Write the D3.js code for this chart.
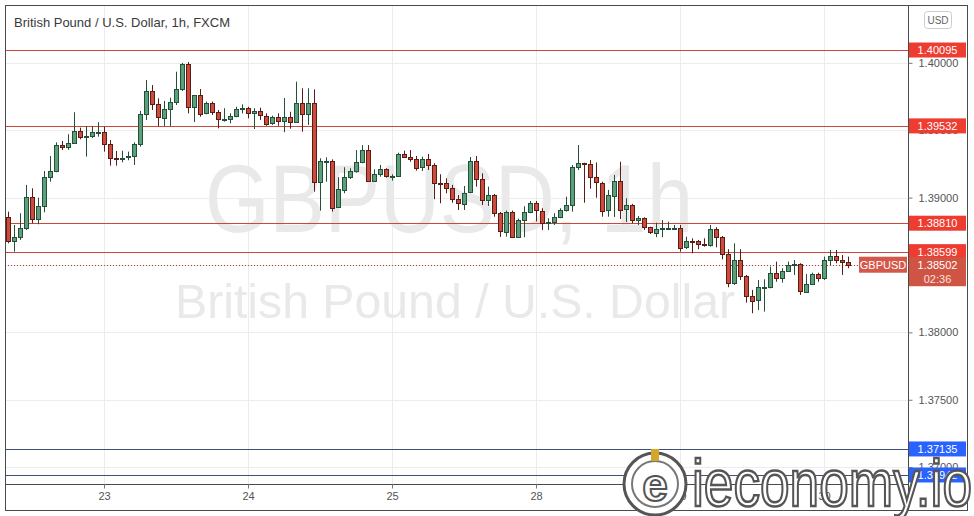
<!DOCTYPE html>
<html><head><meta charset="utf-8">
<script src="https://cdn.jsdelivr.net/npm/d3@7"></script>
<style>body{margin:0;background:#fff;} svg{display:block;}</style>
</head><body>
<svg id="c" width="974" height="516"></svg>
<script>
// ---- data (GBPUSD, 1h) ----
const opens = [1.38854,1.38673,1.38703,1.38772,1.39002,1.38836,1.38936,1.39151,1.39195,1.39388,
1.39370,1.39403,1.39492,1.39447,1.39452,1.39485,1.39485,1.39396,1.39292,1.39289,
1.39296,1.39306,1.39396,1.39618,1.39789,1.39692,1.39593,1.39657,1.39712,1.39806,
1.39991,1.39670,1.39761,1.39623,1.39700,1.39633,1.39581,1.39583,1.39603,1.39657,
1.39663,1.39623,1.39640,1.39608,1.39551,1.39596,1.39566,1.39596,1.39556,1.39700,
1.39618,1.39700,1.39112,1.39269,1.39272,1.38925,1.39062,1.39155,1.39197,1.39262,
1.39353,1.39121,1.39173,1.39210,1.39155,1.39158,1.39324,1.39304,1.39289,1.39225,
1.39284,1.39240,1.39106,1.39106,1.39069,1.38988,1.38958,1.39036,1.39268,1.39136,
1.38977,1.39017,1.38884,1.38747,1.38893,1.38706,1.38832,1.38891,1.38958,1.38903,
1.38817,1.38819,1.38854,1.38908,1.38943,1.39225,1.39255,1.39247,1.39151,1.39112,
1.38903,1.39017,1.39126,1.38913,1.38943,1.38834,1.38847,1.38780,1.38740,1.38767,
1.38775,1.38777,1.38778,1.38631,1.38678,1.38676,1.38654,1.38649,1.38765,1.38706,
1.38582,1.38364,1.38537,1.38419,1.38270,1.38235,1.38335,1.38337,1.38443,1.38409,
1.38459,1.38500,1.38504,1.38302,1.38359,1.38433,1.38402,1.38537,1.38567,1.38537,
1.38522];
const highs = [1.38896,1.38797,1.38884,1.39094,1.39069,1.38999,1.39197,1.39309,1.39410,1.39420,
1.39470,1.39633,1.39519,1.39531,1.39531,1.39559,1.39526,1.39427,1.39346,1.39348,
1.39341,1.39410,1.39643,1.39872,1.39835,1.39737,1.39717,1.39741,1.39934,1.39999,
1.40006,1.39761,1.39806,1.39712,1.39712,1.39650,1.39663,1.39625,1.39674,1.39692,
1.39674,1.39663,1.39667,1.39625,1.39608,1.39625,1.39739,1.39637,1.39860,1.39811,
1.39811,1.39803,1.39292,1.39299,1.39284,1.39151,1.39225,1.39218,1.39353,1.39390,
1.39390,1.39210,1.39242,1.39218,1.39173,1.39333,1.39348,1.39353,1.39309,1.39304,
1.39324,1.39255,1.39173,1.39143,1.39094,1.39019,1.39086,1.39301,1.39309,1.39180,
1.39081,1.39027,1.38893,1.38904,1.38904,1.38844,1.38936,1.38975,1.38975,1.38921,
1.38847,1.38884,1.38921,1.39007,1.39242,1.39390,1.39259,1.39279,1.39261,1.39118,
1.39057,1.39168,1.39266,1.38995,1.38953,1.38864,1.38854,1.38784,1.38814,1.38834,
1.38821,1.38797,1.38797,1.38710,1.38698,1.38686,1.38698,1.38797,1.38780,1.38715,
1.38617,1.38661,1.38617,1.38426,1.38315,1.38389,1.38394,1.38488,1.38525,1.38476,
1.38525,1.38537,1.38513,1.38433,1.38443,1.38443,1.38562,1.38611,1.38611,1.38574,
1.38562];
const lows = [1.38661,1.38599,1.38686,1.38760,1.38810,1.38802,1.38891,1.39118,1.39188,1.39353,
1.39355,1.39398,1.39433,1.39304,1.39442,1.39452,1.39341,1.39237,1.39237,1.39262,
1.39277,1.39242,1.39378,1.39576,1.39650,1.39531,1.39531,1.39531,1.39687,1.39791,
1.39625,1.39561,1.39600,1.39618,1.39613,1.39514,1.39563,1.39551,1.39596,1.39625,
1.39588,1.39509,1.39576,1.39533,1.39539,1.39533,1.39485,1.39511,1.39556,1.39489,
1.39539,1.39044,1.38903,1.39118,1.38896,1.38925,1.39032,1.39138,1.39185,1.39255,
1.39121,1.39121,1.39155,1.39148,1.39126,1.39155,1.39299,1.39266,1.39200,1.39197,
1.39205,1.38988,1.38958,1.39032,1.38962,1.38908,1.38908,1.39032,1.39081,1.38945,
1.38938,1.38858,1.38708,1.38710,1.38700,1.38700,1.38706,1.38884,1.38823,1.38760,
1.38760,1.38797,1.38847,1.38896,1.38896,1.39205,1.38962,1.39066,1.38999,1.38858,
1.38858,1.38856,1.38841,1.38819,1.38810,1.38797,1.38760,1.38730,1.38706,1.38706,
1.38760,1.38760,1.38599,1.38619,1.38587,1.38617,1.38636,1.38636,1.38631,1.38542,
1.38335,1.38352,1.38389,1.38221,1.38142,1.38166,1.38154,1.38327,1.38376,1.38369,
1.38450,1.38426,1.38278,1.38295,1.38352,1.38376,1.38389,1.38500,1.38513,1.38426,
1.38476];
const closes = [1.38673,1.38706,1.38772,1.39002,1.38836,1.38936,1.39151,1.39195,1.39388,1.39373,
1.39403,1.39492,1.39447,1.39455,1.39485,1.39487,1.39396,1.39292,1.39289,1.39296,
1.39306,1.39396,1.39618,1.39789,1.39692,1.39593,1.39657,1.39712,1.39806,1.39991,
1.39670,1.39761,1.39623,1.39700,1.39633,1.39581,1.39583,1.39603,1.39657,1.39663,
1.39623,1.39640,1.39608,1.39551,1.39596,1.39566,1.39596,1.39556,1.39700,1.39618,
1.39700,1.39112,1.39269,1.39272,1.38925,1.39062,1.39155,1.39197,1.39262,1.39353,
1.39121,1.39173,1.39210,1.39155,1.39158,1.39324,1.39304,1.39289,1.39225,1.39284,
1.39240,1.39106,1.39104,1.39069,1.38988,1.38958,1.39036,1.39268,1.39136,1.38977,
1.39017,1.38884,1.38747,1.38893,1.38706,1.38832,1.38891,1.38958,1.38903,1.38817,
1.38819,1.38854,1.38908,1.38943,1.39225,1.39255,1.39252,1.39151,1.39112,1.38903,
1.39017,1.39126,1.38913,1.38943,1.38834,1.38847,1.38780,1.38740,1.38767,1.38775,
1.38777,1.38778,1.38631,1.38678,1.38676,1.38654,1.38649,1.38765,1.38706,1.38582,
1.38364,1.38537,1.38419,1.38270,1.38235,1.38335,1.38337,1.38443,1.38409,1.38459,
1.38500,1.38504,1.38302,1.38359,1.38433,1.38402,1.38537,1.38567,1.38537,1.38522,
1.38502];
const dayTickIndex = [16, 40, 64, 88, 112, 136];
const dayTickLabels = ["23", "24", "25", "28", "29", "30"];
const priceTicks = [1.370, 1.375, 1.380, 1.385, 1.390, 1.395, 1.400];
const redLevels = [1.40095, 1.39532, 1.38810, 1.38599];
const blueLevels = [1.37135, 1.36942];
const lastPrice = 1.38502;
const countdown = "02:36";
const symbol = "GBPUSD";
const title = "British Pound / U.S. Dollar, 1h, FXCM";
const currency = "USD";
const wmSymbol = "GBPUSD, 1h";
const wmName = "British Pound / U.S. Dollar";
const brand = "ieconomy.io";

// ---- layout ----
const W = 974, H = 516;
const plot = {l: 5, r: 908, t: 5, b: 484};
const svg = d3.select("#c");
const font = "'Liberation Sans', Arial, sans-serif";

const x = d3.scaleLinear().domain([0, opens.length - 1]).range([8, 848]);
const y = d3.scaleLinear().domain([1.36875, 1.40429]).range([plot.b, plot.t]);

svg.append("rect").attr("width", W).attr("height", H).attr("fill", "#fff");

const defs = svg.append("defs");
defs.append("clipPath").attr("id", "pc").append("rect")
  .attr("x", plot.l).attr("y", plot.t).attr("width", plot.r - plot.l).attr("height", plot.b - plot.t);

// grid
const grid = svg.append("g").attr("clip-path", "url(#pc)");
grid.selectAll(".hg").data(priceTicks).join("line")
  .attr("x1", plot.l).attr("x2", plot.r)
  .attr("y1", d => Math.round(y(d)) + 0.5).attr("y2", d => Math.round(y(d)) + 0.5)
  .attr("stroke", "#ececec");
grid.selectAll(".vg").data(dayTickIndex).join("line")
  .attr("x1", d => Math.round(x(d)) + 0.5).attr("x2", d => Math.round(x(d)) + 0.5)
  .attr("y1", plot.t).attr("y2", plot.b)
  .attr("stroke", "#ececec");

// watermark texts
svg.append("text").attr("x", 449).attr("y", 232).attr("text-anchor", "middle")
  .attr("font-family", font).attr("font-size", 96)
  .attr("textLength", 488).attr("lengthAdjust", "spacingAndGlyphs")
  .attr("fill", "#e9e9e9").text(wmSymbol);
svg.append("text").attr("x", 455).attr("y", 318).attr("text-anchor", "middle")
  .attr("font-family", font).attr("font-size", 48)
  .attr("textLength", 560).attr("lengthAdjust", "spacingAndGlyphs")
  .attr("fill", "#e9e9e9").text(wmName);

// title
svg.append("text").attr("x", 14).attr("y", 27)
  .attr("font-family", font).attr("font-size", 13)
  .attr("textLength", 216).attr("lengthAdjust", "spacingAndGlyphs")
  .attr("fill", "#3a3a3a").text(title);

// level lines
const lv = svg.append("g").attr("clip-path", "url(#pc)");
lv.selectAll(".rl").data(redLevels).join("line")
  .attr("x1", plot.l).attr("x2", plot.r)
  .attr("y1", d => Math.round(y(d)) + 0.5).attr("y2", d => Math.round(y(d)) + 0.5)
  .attr("stroke", "#c8483c").attr("stroke-width", 1);
lv.selectAll(".bl").data(blueLevels).join("line")
  .attr("x1", plot.l).attr("x2", plot.r)
  .attr("y1", d => Math.round(y(d)) + 0.5).attr("y2", d => Math.round(y(d)) + 0.5)
  .attr("stroke", "#3e5179").attr("stroke-width", 1);

// last price dotted line
lv.append("line").attr("x1", plot.l).attr("x2", 858)
  .attr("y1", Math.round(y(lastPrice)) + 0.5).attr("y2", Math.round(y(lastPrice)) + 0.5)
  .attr("stroke", "#c0392b").attr("stroke-dasharray", "1,2");

// candles
const idx = d3.range(opens.length);
const up = i => closes[i] >= opens[i];
const cg = svg.append("g").attr("clip-path", "url(#pc)");
cg.selectAll(".wick").data(idx).join("line")
  .attr("x1", i => Math.round(x(i)) + 0.5).attr("x2", i => Math.round(x(i)) + 0.5)
  .attr("y1", i => y(highs[i])).attr("y2", i => y(lows[i]))
  .attr("stroke", i => up(i) ? "#24503a" : "#5a1d16");
cg.selectAll(".body").data(idx).join("rect")
  .attr("x", i => Math.round(x(i)) - 1.5)
  .attr("width", 4)
  .attr("y", i => Math.round(y(Math.max(opens[i], closes[i]))) + 0.5)
  .attr("height", i => Math.max(1, Math.round(Math.abs(y(opens[i]) - y(closes[i])))))
  .attr("fill", i => up(i) ? "#5b9f7b" : "#cc4b3c")
  .attr("stroke", i => up(i) ? "#24503a" : "#5a1d16")
  .attr("stroke-width", 1);

// frame
svg.append("rect").attr("x", 5.5).attr("y", 5.5).attr("width", 962).attr("height", 505)
  .attr("fill", "none").attr("stroke", "#4a4a4a");
svg.append("line").attr("x1", plot.r + 0.5).attr("x2", plot.r + 0.5).attr("y1", 5).attr("y2", 511)
  .attr("stroke", "#4a4a4a");
svg.append("line").attr("x1", 5).attr("x2", plot.r).attr("y1", plot.b + 0.5).attr("y2", plot.b + 0.5)
  .attr("stroke", "#4a4a4a");

// price axis
const yAxis = d3.axisRight(y).tickValues(priceTicks).tickSize(4).tickFormat(d3.format(".5f"));
const ya = svg.append("g").attr("transform", `translate(${plot.r + 0.5},0)`).call(yAxis);
ya.select(".domain").remove();
ya.selectAll("line").attr("stroke", "#777");
ya.selectAll("text").attr("font-family", font).attr("font-size", 11).attr("fill", "#555").attr("x", 10);

// time axis
const xAxis = d3.axisBottom(x).tickValues(dayTickIndex).tickSize(4)
  .tickFormat((d, k) => dayTickLabels[k]);
const xa = svg.append("g").attr("transform", `translate(0,${plot.b + 0.5})`).call(xAxis);
xa.select(".domain").remove();
xa.selectAll("line").attr("stroke", "#777");
xa.selectAll("text").attr("font-family", font).attr("font-size", 11).attr("fill", "#555").attr("y", 8);

// price labels
function label(price, color, txt, h) {
  const cy = y(price);
  const g = svg.append("g");
  g.append("rect").attr("x", 909).attr("y", cy - 7.5).attr("width", 57).attr("height", h || 15)
    .attr("fill", color);
  g.append("text").attr("x", 937.5).attr("y", cy + 4).attr("text-anchor", "middle")
    .attr("font-family", font).attr("font-size", 11).attr("fill", "#fff").text(txt);
  return g;
}
redLevels.forEach(p => label(p, "#ee3c31", d3.format(".5f")(p)));
// last price
const lp = label(lastPrice, "#cf5444", d3.format(".5f")(lastPrice), 29);
lp.append("text").attr("x", 937.5).attr("y", y(lastPrice) + 18).attr("text-anchor", "middle")
  .attr("font-family", font).attr("font-size", 11).attr("fill", "#fbe3df").text(countdown);
svg.append("rect").attr("x", 859).attr("y", y(lastPrice) - 8).attr("width", 48).attr("height", 16)
  .attr("fill", "#d4584a");
svg.append("text").attr("x", 883).attr("y", y(lastPrice) + 4).attr("text-anchor", "middle")
  .attr("font-family", font).attr("font-size", 11).attr("fill", "#fff").text(symbol);
blueLevels.forEach(p => label(p, "#2962ff", d3.format(".5f")(p)));

// currency button
svg.append("rect").attr("x", 924.5).attr("y", 11.5).attr("width", 27).attr("height", 17).attr("rx", 3)
  .attr("fill", "#fff").attr("stroke", "#ccc");
svg.append("text").attr("x", 938).attr("y", 24).attr("text-anchor", "middle")
  .attr("font-family", font).attr("font-size", 10).attr("fill", "#666").text(currency);

// brand watermark (bottom right)
const bw = svg.append("g");
bw.append("circle").attr("cx", 655).attr("cy", 484).attr("r", 31)
  .attr("fill", "#fff").attr("stroke", "#555").attr("stroke-width", 3);
bw.append("circle").attr("cx", 655).attr("cy", 484).attr("r", 23)
  .attr("fill", "#fff").attr("stroke", "#777").attr("stroke-width", 2);
bw.append("text").attr("x", 655).attr("y", 501).attr("text-anchor", "middle")
  .attr("font-family", font).attr("font-size", 46).attr("font-weight", "bold")
  .attr("fill", "#fff").attr("stroke", "#555").attr("stroke-width", 2).text("e");
bw.append("rect").attr("x", 651).attr("y", 449).attr("width", 8).attr("height", 12).attr("fill", "#d4a72c");
bw.append("text").attr("x", 692).attr("y", 506)
  .attr("font-family", font).attr("font-size", 66)
  .attr("textLength", 280).attr("lengthAdjust", "spacingAndGlyphs")
  .attr("fill", "#fff").attr("stroke", "#555").attr("stroke-width", 2.5).text(brand);
</script>
</body></html>
